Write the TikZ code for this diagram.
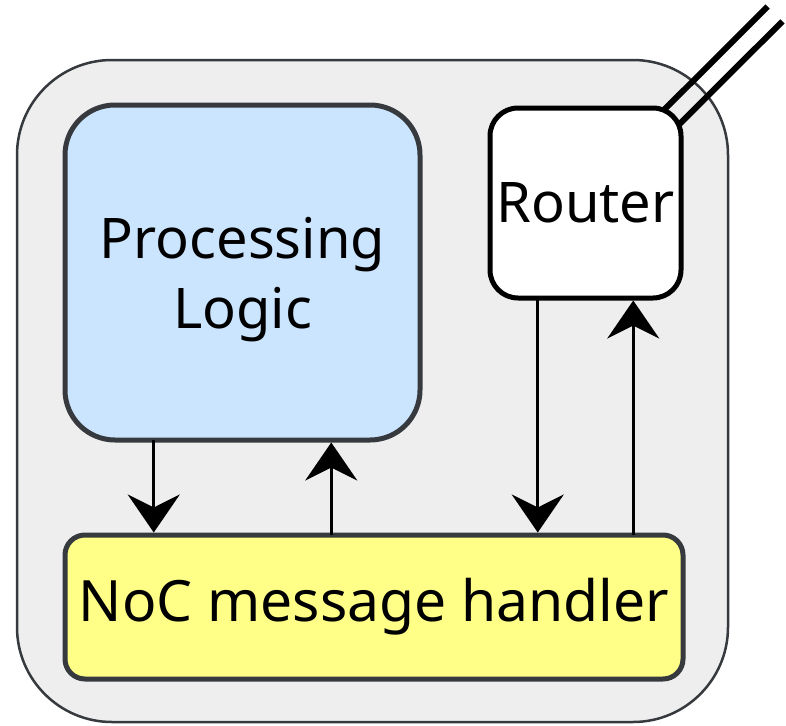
\documentclass[tikz,border=0pt]{standalone}
\usepackage{fontspec}
\setmainfont{Noto Sans}
\usetikzlibrary{arrows.meta,calc}
\definecolor{edge}{HTML}{36393D}
\definecolor{chipbg}{HTML}{EEEEEE}
\definecolor{logicbg}{HTML}{CCE5FF}
\definecolor{handlerbg}{HTML}{FFFF88}
\begin{document}
\begin{tikzpicture}[x=1pt,y=-1pt,
  block/.style={rectangle, draw=edge, line width=5pt, inner sep=0pt, outer sep=0pt,
    font=\fontsize{56}{70}\selectfont, align=center},
  flow/.style={line width=3.2pt, -{Stealth[length=38pt,width=52pt,inset=13pt]}, shorten >=2.5pt},
  link/.style={line width=6pt, line cap=butt}]
\useasboundingbox (0,0) rectangle (786,725);

% tile outline
\node[draw=edge, line width=2.5pt, fill=chipbg, rounded corners=95pt,
      minimum width=711pt, minimum height=662pt, inner sep=0pt, outer sep=0pt]
      (chip) at (372.5,391) {};

% off-tile link leaving the router corner
\coordinate (rc) at (585.5,203);
\coordinate (ext) at (775,14);
\draw[link] ($(rc)+(-7.4,-7.4)$) -- ($(ext)+(-7.4,-7.4)$);
\draw[link] ($(rc)+(7.4,7.4)$) -- ($(ext)+(7.4,7.4)$);

% blocks
\node[block, fill=logicbg, rounded corners=50pt, minimum width=355pt, minimum height=335pt]
      (pl) at (242.5,272.5) {\rule{0pt}{55pt}Processing\\Logic};
\node[block, draw=black, fill=white, rounded corners=28pt, minimum width=191pt, minimum height=190pt]
      (rt) at (rc) {Router};
\node[block, fill=handlerbg, rounded corners=20pt, minimum width=618pt, minimum height=144pt,
      font=\fontsize{57}{70}\selectfont]
      (nh) at (374,607) {NoC message handler};

% connectors
\path ($(pl.south west)!.25!(pl.south east)$) coordinate (p1)
      ($(pl.south west)!.75!(pl.south east)$) coordinate (p2)
      ($(rt.south west)!.25!(rt.south east)$) coordinate (r1)
      ($(rt.south west)!.75!(rt.south east)$) coordinate (r2);
\draw[flow] (p1) -- (p1 |- nh.north);
\draw[flow] (p2 |- nh.north) -- (p2);
\draw[flow] (r1) -- (r1 |- nh.north);
\draw[flow] (r2 |- nh.north) -- (r2);
\end{tikzpicture}
\end{document}
